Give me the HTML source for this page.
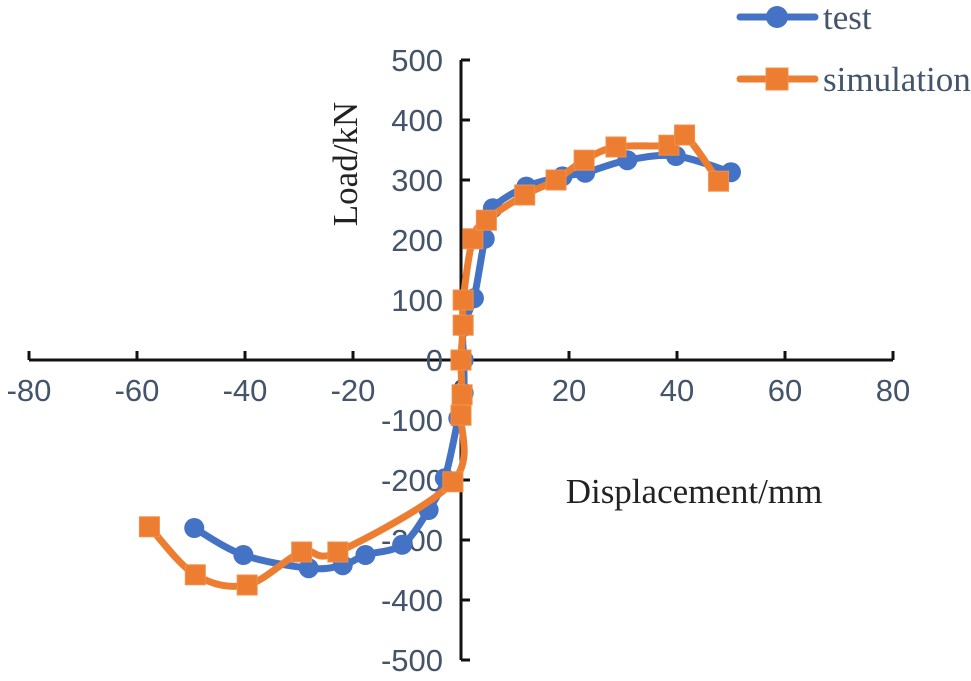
<!DOCTYPE html>
<html><head><meta charset="utf-8">
<style>
html,body{margin:0;padding:0;background:#fff;}
svg{display:block;}
.tick{font-family:"Liberation Sans",sans-serif;font-size:31px;fill:#44546a;}
.ser{font-family:"Liberation Serif",serif;font-size:35px;}
</style></head>
<body>
<svg id="chart" width="971" height="681" viewBox="0 0 971 681">
  <g id="axes"></g>
  <g id="series"></g>
  <text class="ser" x="0" y="0" transform="translate(357,164) rotate(-90)" text-anchor="middle" fill="#222" font-size="36">Load/kN</text>
  <text class="ser" x="694" y="503" text-anchor="middle" fill="#222">Displacement/mm</text>
  <g>
    <g>
      <line x1="740" y1="17" x2="815" y2="17" stroke="#4472c4" stroke-width="7" stroke-linecap="round"/>
      <circle cx="777" cy="17" r="11" fill="#4472c4"/>
      <text class="ser" x="823" y="29" fill="#44546a" font-size="34">test</text>
    </g>
    <g>
      <line x1="740" y1="79" x2="815" y2="79" stroke="#ed7d31" stroke-width="7" stroke-linecap="round"/>
      <rect x="766" y="68" width="22" height="22" fill="#ed7d31" stroke="#f0904a" stroke-width="1"/>
      <text class="ser" x="823" y="91" fill="#44546a" font-size="34">simulation</text>
    </g>
  </g>
</svg>
<script>
const xTicks = [-80,-60,-40,-20,0,20,40,60,80];
const yTicks = [500,400,300,200,100,0,-100,-200,-300,-400,-500];
const testX = [-49.4,-40.3,-28.2,-21.9,-17.7,-10.9,-6,-3,-0.5,0.5,0.5,0.4,2.4,4.4,5.9,12.1,18.8,23,30.8,39.8,50];
const testY = [-280,-325,-347,-342,-325,-308,-250,-197,-97,-55,0,55,103,202,253,289,306,312,333,340,313];
const simX = [-57.7,-49.2,-39.6,-29.5,-22.8,-1.5,0,0.2,0,0.4,0.4,2.2,4.7,11.8,17.6,22.8,28.7,38.5,41.4,47.7];
const simY = [-278,-358,-375,-320,-320,-203,-92,-58,0,58,100,202,233,275,300,333,355,358,375,298];

const NS="http://www.w3.org/2000/svg";
const X0=461, XS=5.4, Y0=360, YS=0.6;
function sx(v){return X0+v*XS;}
function sy(v){return Y0-v*YS;}
function mk(tag,attrs,parent){const e=document.createElementNS(NS,tag);for(const k in attrs)e.setAttribute(k,attrs[k]);parent.appendChild(e);return e;}
const axes=document.getElementById('axes');
const ser=document.getElementById('series');
let xa=mk('line',{x1:sx(-80),x2:sx(80),y1:sy(0),y2:sy(0),stroke:'#111','stroke-width':3},axes);


let ya=mk('line',{x1:sx(0),x2:sx(0),y1:sy(500),y2:sy(-500),stroke:'#111','stroke-width':3},axes);


xTicks.forEach(t=>{
  mk('line',{x1:sx(t),x2:sx(t),y1:sy(0),y2:sy(0)-9,stroke:'#111','stroke-width':3},axes);
  const tx=mk('text',{x:sx(t),y:sy(0)+41,'text-anchor':'middle',class:'tick'},axes);
  tx.textContent=t;
  
  
});
yTicks.forEach(t=>{
  mk('line',{x1:sx(0),x2:sx(0)+9,y1:sy(t),y2:sy(t),stroke:'#111','stroke-width':3},axes);
  const tx=mk('text',{x:443,y:sy(t)+11,'text-anchor':'end',class:'tick'},axes);
  tx.textContent=t;
  
  
});
function smooth(xs,ys){
  const p=xs.map((x,i)=>[sx(x),sy(ys[i])]);
  let d='M'+p[0][0]+','+p[0][1];
  for(let i=0;i<p.length-1;i++){
    const p0=p[i-1]||p[i],p1=p[i],p2=p[i+1],p3=p[i+2]||p2;
    const t=1/6;
    const c1=[p1[0]+(p2[0]-p0[0])*t,p1[1]+(p2[1]-p0[1])*t];
    const c2=[p2[0]-(p3[0]-p1[0])*t,p2[1]-(p3[1]-p1[1])*t];
    d+=' C'+c1+' '+c2+' '+p2;
  }
  return d;
}
const tl=mk('path',{d:smooth(testX,testY),fill:'none',stroke:'#4472c4','stroke-width':7,'stroke-linejoin':'round'},ser);


testX.forEach((x,i)=>{
  const c=mk('circle',{cx:sx(x),cy:sy(testY[i]),r:10,fill:'#4472c4'},ser);
  
  
});
const sl=mk('path',{d:smooth(simX,simY),fill:'none',stroke:'#ed7d31','stroke-width':7,'stroke-linejoin':'round'},ser);


simX.forEach((x,i)=>{
  const r=mk('rect',{x:sx(x)-10,y:sy(simY[i])-10,width:20,height:20,fill:'#ed7d31',stroke:'#f0904a','stroke-width':1},ser);
  
  
});
</script>
</body></html>
